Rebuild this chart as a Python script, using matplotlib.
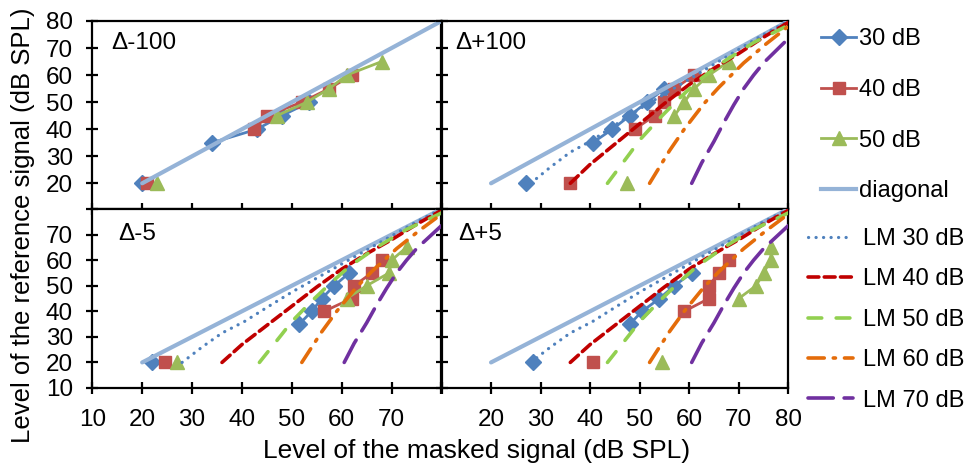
import numpy as np
import matplotlib.pyplot as plt
from matplotlib.lines import Line2D

plt.rcParams['font.family'] = ['Liberation Sans', 'DejaVu Sans']

nan = np.nan

# ticks shared by every panel
x_ticks = [10, 20, 30, 40, 50, 60, 70, 80]
y_ticks = [10, 20, 30, 40, 50, 60, 70, 80]

# diagonal reference
diag_x = [20, 80]
diag_y = [20, 80]

# measured data, one block per panel (masked level, reference level)
# nan = empty cell, so the 20 dB point stands alone
m100_30_x = [20, nan, 34, 43, 48, 53.5]
m100_30_y = [20, nan, 35, 40, 45, 50]
m100_40_x = [21, nan, 42.5, 45, 52, 57.5, 62]
m100_40_y = [20, nan, 40, 45, 50, 55, 60]
m100_50_x = [23, nan, 47, 53, 57.5, 61, 68]
m100_50_y = [20, nan, 45, 50, 55, 60, 65]

p100_30_x = [27, nan, 40.5, 44.5, 48, 51.5, 55]
p100_30_y = [20, nan, 35, 40, 45, 50, 55]
p100_40_x = [36, nan, 49, 53, 55, 57, 61]
p100_40_y = [20, nan, 40, 45, 50, 55, 60]
p100_50_x = [47.5, nan, 57, 59, 61, 64, 68]
p100_50_y = [20, nan, 45, 50, 55, 60, 65]

m5_30_x = [22, nan, 51.5, 54, 56, 58.5, 61.5]
m5_30_y = [20, nan, 35, 40, 45, 50, 55]
m5_40_x = [24.5, nan, 56.5, 62, 62.5, 66, 68]
m5_40_y = [20, nan, 40, 45, 50, 55, 60]
m5_50_x = [27, nan, 61, 65, 69.5, 70, 73]
m5_50_y = [20, nan, 45, 50, 55, 60, 65]

p5_30_x = [28.5, nan, 48, 50.5, 54, 57, 60.5]
p5_30_y = [20, nan, 35, 40, 45, 50, 55]
p5_40_x = [40.5, nan, 59, 64, 64, 66, 68]
p5_40_y = [20, nan, 40, 45, 50, 55, 60]
p5_50_x = [54.5, nan, 70, 73.5, 75, 76.5, 76.5]
p5_50_y = [20, nan, 45, 50, 55, 60, 65]

# loudness model curves (same in the three panels that show them)
lm30_x = [28, 32, 36, 40.5, 45, 50, 55, 60, 65, 70, 75, 80]
lm30_y = [20, 26, 31.5, 36, 41.5, 47.5, 53, 58.5, 64, 69.5, 75, 80]
lm40_x = [36, 40, 45, 50, 55, 60, 65, 70, 75, 80]
lm40_y = [20, 27, 34.5, 42, 49.5, 56.5, 62.5, 68, 74, 79.5]
lm50_x = [43.5, 48, 50, 54, 57.5, 61.5, 67, 73, 79, 80]
lm50_y = [20, 31, 36, 44, 50.5, 57.5, 65, 72, 77.5, 78.5]
lm60_x = [52, 54, 56, 59, 63, 66, 71, 75.5, 80]
lm60_y = [20, 26, 32, 40, 49.5, 55.5, 64.5, 71.5, 78]
lm70_x = [60.5, 62.5, 65, 67, 69, 71, 73, 75, 77.5, 80]
lm70_y = [20, 27.5, 35.5, 42.5, 49, 55, 60, 64.5, 69, 73.5]

panel_names = ['Δ-100', 'Δ+100', 'Δ-5', 'Δ+5']

c30, c40, c50 = '#4F81BD', '#C0504D', '#9BBB59'
c_diag = '#95B3D7'
lm_styles = [
    ('LM 30 dB', lm30_x, lm30_y, '#4F81BD', (0, (0.05, 2.3)), 2.3),
    ('LM 40 dB', lm40_x, lm40_y, '#C00000', (0, (3, 1.5)), 2.6),
    ('LM 50 dB', lm50_x, lm50_y, '#92D050', (0, (3.8, 4)), 2.6),
    ('LM 60 dB', lm60_x, lm60_y, '#E46C0A', (0, (4.5, 2.5, 0.6, 2.5)), 2.6),
    ('LM 70 dB', lm70_x, lm70_y, '#7030A0', (0, (7, 3)), 2.6),
]

fig = plt.figure(figsize=(9.74, 4.63), dpi=100)
W, H = 974, 463
def add_ax(x0, x1, y0, y1):
    return fig.add_axes([x0 / W, 1 - y1 / H, (x1 - x0) / W, (y1 - y0) / H])

ax_tl = add_ax(92.3, 441.5, 21, 209)
ax_tr = add_ax(441.5, 788.3, 21, 209)
ax_bl = add_ax(92.3, 441.5, 209, 388)
ax_br = add_ax(441.5, 788.3, 209, 388)
axes = [ax_tl, ax_tr, ax_bl, ax_br]

data = [
    (m100_30_x, m100_30_y, m100_40_x, m100_40_y, m100_50_x, m100_50_y),
    (p100_30_x, p100_30_y, p100_40_x, p100_40_y, p100_50_x, p100_50_y),
    (m5_30_x, m5_30_y, m5_40_x, m5_40_y, m5_50_x, m5_50_y),
    (p5_30_x, p5_30_y, p5_40_x, p5_40_y, p5_50_x, p5_50_y),
]
label_pos = [(0.055, 0.94), (0.039, 0.94), (0.073, 0.92), (0.048, 0.92)]

for i, ax in enumerate(axes):
    x30, y30, x40, y40, x50, y50 = data[i]
    # Excel order: measured series, then diagonal, then model curves
    ax.plot(x30, y30, color=c30, lw=2, marker='D', ms=8.5, zorder=2)
    ax.plot(x40, y40, color=c40, lw=2, marker='s', ms=8.5, zorder=2)
    ax.plot(x50, y50, color=c50, lw=2, marker='^', ms=9.5, zorder=2)
    ax.plot(diag_x, diag_y, color=c_diag, lw=3, solid_capstyle='round',
            zorder=3)
    if i > 0:
        for name, lx, ly, col, ls, lw in lm_styles:
            ax.plot(lx, ly, color=col, ls=ls, lw=lw, dash_capstyle='round',
                    zorder=4)

    ax.set_xlim(10, 80)
    ax.set_ylim(10.5 if i < 2 else 10, 80)
    for s in ax.spines.values():
        s.set_linewidth(1.6)
    ax.tick_params(direction='inout', length=8, width=1.6, labelsize=17.5)
    ax.text(label_pos[i][0], label_pos[i][1], panel_names[i],
            transform=ax.transAxes, fontsize=17.5, ha='left', va='top')

    if i == 2:
        ax.set_xticks(x_ticks, [str(t) if t < 80 else '' for t in x_ticks])
    elif i == 3:
        ax.set_xticks(x_ticks, [str(t) if t > 10 else '' for t in x_ticks])
    else:
        ax.set_xticks(x_ticks, [''] * len(x_ticks))
    if i == 0:
        ax.set_yticks(y_ticks[1:], [str(t) for t in y_ticks[1:]])
    elif i == 2:
        ax.set_yticks(y_ticks, [str(t) if t < 80 else '' for t in y_ticks])
    else:
        ax.set_yticks(y_ticks[1:] if i == 1 else y_ticks,
                      [''] * (7 if i == 1 else 8))
    ax.tick_params(axis='y', pad=10)
    ax.tick_params(axis='x', pad=11)

fig.text(477 / W, 1 - 451 / H, 'Level of the masked signal (dB SPL)',
         ha='center', va='center', fontsize=19)
fig.text(23 / W, 1 - 225 / H, 'Level of the reference signal (dB SPL)',
         ha='center', va='center', rotation=90, fontsize=18.5)

h1 = [
    Line2D([], [], color=c30, lw=2, marker='D', ms=8.5),
    Line2D([], [], color=c40, lw=2, marker='s', ms=8.5),
    Line2D([], [], color=c50, lw=2, marker='^', ms=9.5),
    Line2D([], [], color=c_diag, lw=3),
]
fig.legend(h1, ['30 dB', '40 dB', '50 dB', 'diagonal'],
           loc='upper left', bbox_to_anchor=(821 / W, 1 - 28 / H),
           frameon=False, fontsize=17, handlelength=1.5,
           handletextpad=0.12, labelspacing=1.22, borderaxespad=0,
           borderpad=0)
h2 = [Line2D([], [], color=col, ls=ls, lw=lw, dash_capstyle='round')
      for name, lx, ly, col, ls, lw in lm_styles]
fig.legend(h2, [s[0] for s in lm_styles], loc='upper left',
           bbox_to_anchor=(808 / W, 1 - 228 / H), frameon=False,
           fontsize=17, handlelength=1.9, handletextpad=0.45,
           labelspacing=0.78, borderaxespad=0, borderpad=0)

fig.savefig('out.png', dpi=100)
